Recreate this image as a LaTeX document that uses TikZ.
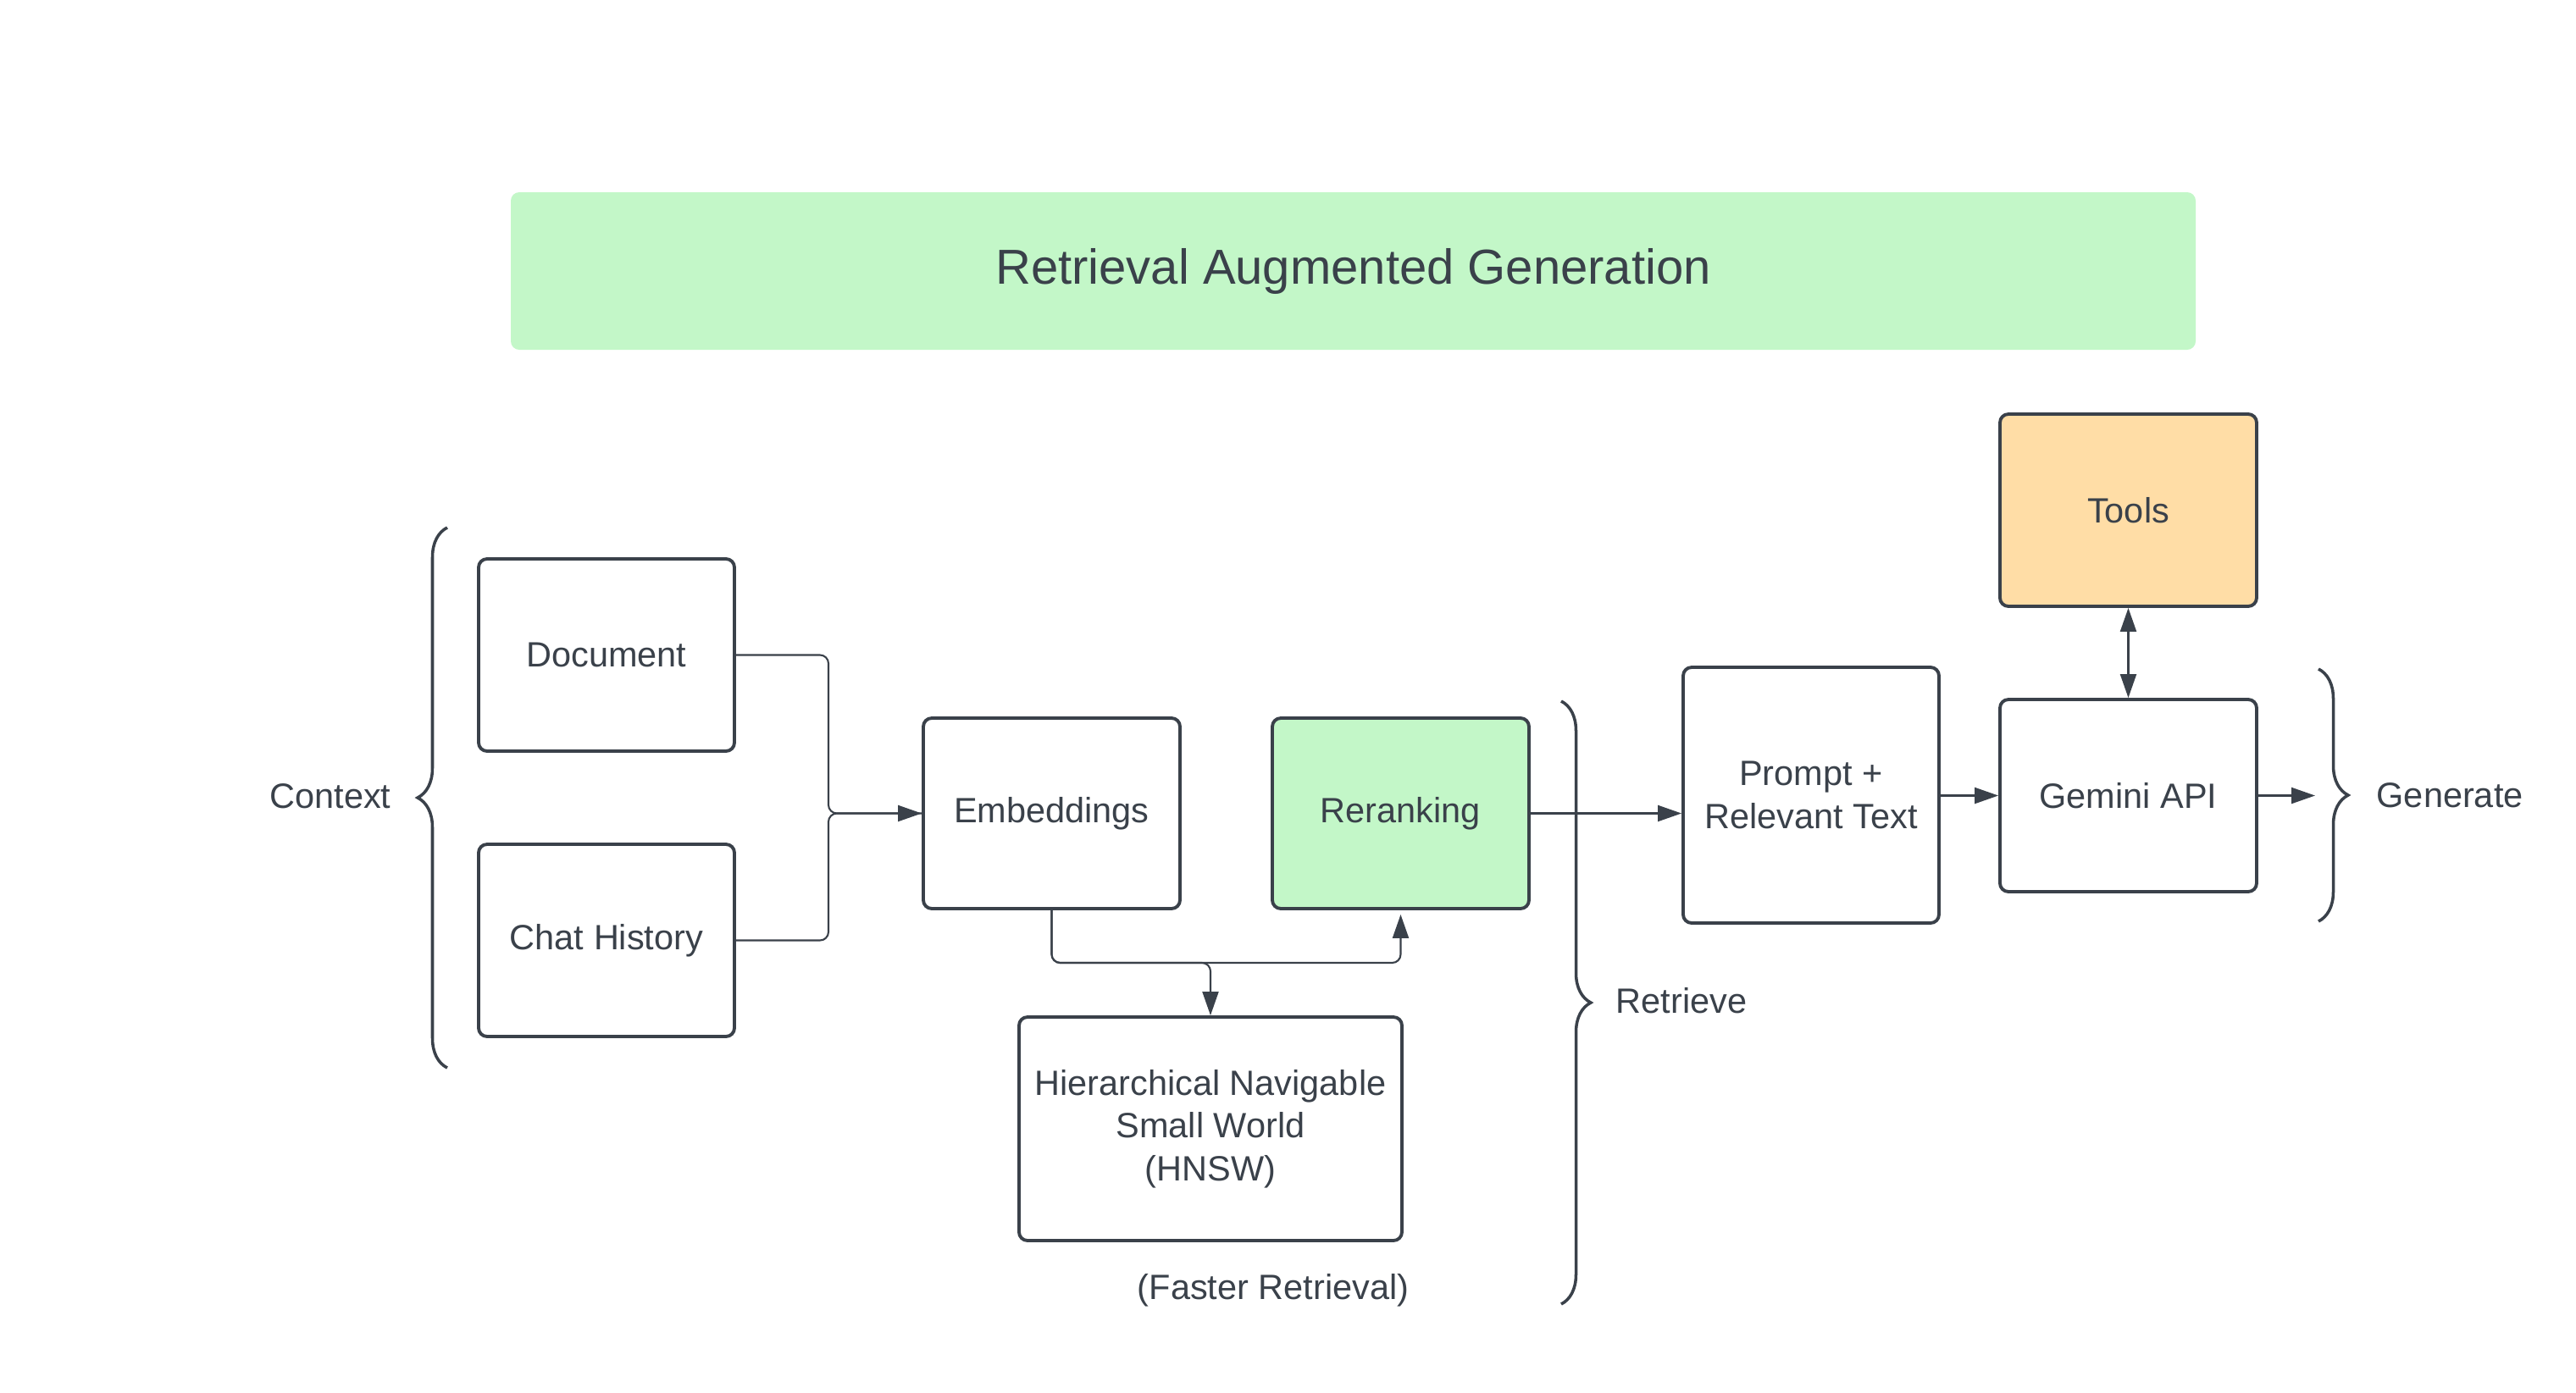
\documentclass[tikz,border=0pt]{standalone}
\usepackage{fontspec}
\setmainfont{Liberation Sans}
\usepackage{tikz}
\usetikzlibrary{arrows.meta, decorations.pathreplacing, calc}

\definecolor{ink}{HTML}{3A414A}
\definecolor{ragGreen}{HTML}{C3F7C8}
\definecolor{toolOrange}{HTML}{FFDDA6}

\begin{document}
\begin{tikzpicture}[
    box/.style={draw=ink, line width=1.1pt, rounded corners=0.1cm, text=ink,
                align=center, inner sep=0pt, minimum width=3.02cm, minimum height=2.27cm,
                font=\fontsize{11.8}{14.3}\selectfont},
    conn/.style={draw=ink, line width=0.6pt, rounded corners=0.1cm,
                 -{Triangle[length=0.28cm, width=0.19cm]}},
    curly/.style={draw=ink, line width=1pt, decorate, decoration={brace, amplitude=0.35cm}},
    lbl/.style={text=ink, inner sep=0pt, font=\fontsize{11.8}{14.3}\selectfont}
]
    \useasboundingbox (0,0) rectangle (30.41,-16.44);

    \node[fill=ragGreen, rounded corners=0.1cm, minimum width=19.89cm, minimum height=1.86cm,
          text=ink, font=\fontsize{16.5}{20}\selectfont] (title) at (15.975,-3.20)
          {Retrieval Augmented Generation};

    \node[box] (doc) at (7.16,-7.735) {Document};
    \node[box] (chat) at (7.16,-11.105) {Chat History};

    \node[box, minimum width=3.03cm, minimum height=2.25cm] (emb) at (12.415,-9.605) {Embeddings};
    \node[box, fill=ragGreen, minimum width=3.03cm, minimum height=2.25cm] (rerank) at (16.535,-9.605) {Reranking};
    \node[box, minimum width=4.52cm, minimum height=2.64cm] (hnsw) at (14.29,-13.33)
          {Hierarchical Navigable\\Small World\\(HNSW)};

    \node[box, minimum height=3.02cm] (prompt) at (21.38,-9.39) {Prompt +\\Relevant Text};
    \node[box, minimum width=3.03cm] (gemini) at (25.125,-9.395) {Gemini API};
    \node[box, fill=toolOrange, minimum width=3.03cm] (tools) at (25.125,-6.025) {Tools};

    \coordinate (join) at (9.78,-9.605);
    \coordinate (split) at (14.29,-11.37);
    \coordinate (out) at (27.33,-9.395);

    \draw[conn] (doc.east) -| (join) -- (emb.west);
    \draw[conn, -] (chat.east) -| (join) -- (emb.west);
    \draw[conn] (emb.south) |- (split) -- (hnsw.north);
    \draw[conn] (emb.south) |- (split) -| ($(rerank.south)+(0,-0.05)$);
    \draw[conn] (rerank.east) -- (prompt.west |- rerank.east);
    \draw[conn] (prompt.east |- gemini.west) -- (gemini.west);
    \draw[conn] (gemini.east) -- (out);
    \draw[conn, {Triangle[length=0.28cm, width=0.19cm]}-{Triangle[length=0.28cm, width=0.19cm]}]
          (gemini.north) -- (tools.south);

    \draw[curly] (5.28,-12.61) -- (5.28,-6.23);
    \draw[curly] (18.43,-8.28) -- (18.43,-15.40);
    \draw[curly] (27.37,-7.90) -- (27.37,-10.88);

    \node[lbl] (ctx) at (3.90,-9.40) {Context};
    \node[lbl, anchor=west] (ret) at (19.07,-11.82) {Retrieve};
    \node[lbl, anchor=west] (gen) at (28.05,-9.39) {Generate};
    \node[lbl] (fast) at (15.03,-15.24) {(Faster Retrieval)};

\end{tikzpicture}
\end{document}
